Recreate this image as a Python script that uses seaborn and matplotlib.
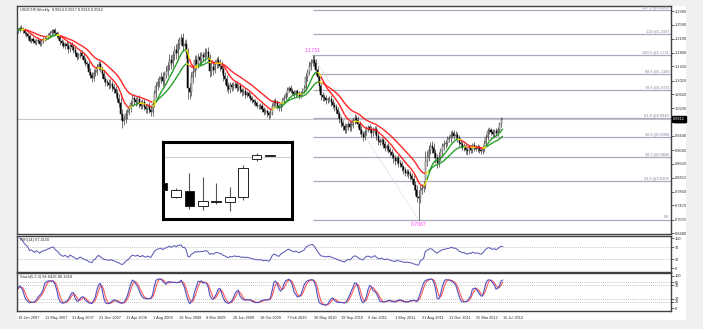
import numpy as np
import pandas as pd
import matplotlib
matplotlib.use("Agg")
import matplotlib.pyplot as plt
from matplotlib.collections import LineCollection
from matplotlib.patches import Rectangle
import matplotlib.transforms as mtransforms
import seaborn as sns

# ---------------- data: USDCHF weekly ----------------
closes = [
    1.245, 1.250, 1.248, 1.243, 1.236, 1.232, 1.226, 1.214, 1.218, 1.212, 1.208, 1.216, 1.212, 1.205, 1.214, 1.218,
    1.220, 1.225, 1.230, 1.235, 1.240, 1.244, 1.236, 1.230, 1.224, 1.212, 1.206, 1.200, 1.205, 1.198, 1.190, 1.202,
    1.195, 1.188, 1.178, 1.168, 1.172, 1.178, 1.170, 1.160, 1.150, 1.148, 1.125, 1.118, 1.108, 1.122, 1.126, 1.140,
    1.148, 1.135, 1.120, 1.104, 1.098, 1.095, 1.088, 1.092, 1.082, 1.076, 1.065, 1.050, 1.038, 1.005, 0.985, 0.992,
    1.005, 1.012, 1.022, 1.038, 1.052, 1.045, 1.040, 1.048, 1.035, 1.030, 1.040, 1.025, 1.020, 1.028, 1.018, 1.012,
    1.035, 1.065, 1.085, 1.098, 1.105, 1.112, 1.100, 1.118, 1.128, 1.142, 1.160, 1.150, 1.172, 1.188, 1.178, 1.205,
    1.215, 1.222, 1.200, 1.205, 1.180, 1.080, 1.068, 1.110, 1.125, 1.160, 1.148, 1.168, 1.158, 1.172, 1.168, 1.180,
    1.182, 1.165, 1.128, 1.140, 1.132, 1.148, 1.158, 1.150, 1.142, 1.135, 1.115, 1.105, 1.085, 1.078, 1.088, 1.082,
    1.088, 1.092, 1.080, 1.085, 1.075, 1.068, 1.072, 1.060, 1.065, 1.058, 1.052, 1.045, 1.040, 1.036, 1.030, 1.028,
    1.030, 1.020, 1.012, 1.015, 1.008, 1.002, 1.010, 1.030, 1.042, 1.038, 1.028, 1.022, 1.035, 1.045, 1.052, 1.062,
    1.075, 1.080, 1.072, 1.068, 1.062, 1.070, 1.064, 1.058, 1.066, 1.072, 1.080, 1.110, 1.125, 1.142, 1.150, 1.160,
    1.150, 1.132, 1.110, 1.085, 1.060, 1.055, 1.052, 1.045, 1.048, 1.050, 1.040, 1.032, 1.025, 1.018, 1.005, 0.992,
    0.982, 0.972, 0.962, 0.970, 0.978, 0.968, 0.975, 0.988, 0.996, 0.990, 0.978, 0.962, 0.950, 0.940, 0.955, 0.965,
    0.968, 0.962, 0.952, 0.958, 0.965, 0.945, 0.930, 0.928, 0.932, 0.920, 0.910, 0.915, 0.905, 0.898, 0.890, 0.880,
    0.872, 0.880, 0.868, 0.865, 0.855, 0.848, 0.840, 0.842, 0.835, 0.830, 0.822, 0.805, 0.792, 0.772, 0.768, 0.790,
    0.795, 0.805, 0.872, 0.885, 0.905, 0.915, 0.910, 0.895, 0.880, 0.868, 0.885, 0.900, 0.915, 0.920, 0.925, 0.935,
    0.938, 0.948, 0.952, 0.945, 0.948, 0.938, 0.925, 0.920, 0.912, 0.915, 0.905, 0.900, 0.910, 0.905, 0.918, 0.910,
    0.908, 0.912, 0.905, 0.902, 0.908, 0.925, 0.942, 0.958, 0.960, 0.955, 0.950, 0.958, 0.952, 0.962, 0.978, 0.9914, 0.9912,
]
first_open = 1.2410

# wick lengths above / below each candle body, in pips
upper_wick = [
    60, 45, 70, 40, 55, 35, 50, 80, 45, 60, 55, 40, 50, 65, 45, 55,
    50, 60, 45, 55, 70, 40, 60, 45, 80, 55, 70, 90, 60, 75, 110, 60,
    70, 60, 85, 50, 75, 60, 90, 70, 80, 65, 90, 110, 80, 120, 75, 90,
    80, 95, 70, 110, 85, 75, 90, 120, 80, 100, 85, 110, 130, 150, 140, 120,
    130, 90, 110, 80, 100, 120, 90, 85, 110, 95, 80, 100, 90, 75, 110, 95,
    100, 90, 120, 110, 85, 140, 120, 100, 130, 110, 150, 120, 140, 110, 160, 130,
    85, 120, 150, 110, 130, 120, 150, 140, 160, 130, 120, 110, 140, 100, 90, 120,
    100, 140, 120, 150, 110, 100, 90, 120, 110, 130, 100, 90, 120, 110, 80, 100,
    80, 70, 90, 75, 85, 60, 70, 80, 55, 65, 70, 60, 50, 75, 60, 55,
    60, 70, 55, 80, 65, 75, 90, 60, 70, 85, 65, 75, 60, 70, 80, 65,
    75, 60, 85, 70, 65, 55, 80, 70, 60, 75, 90, 120, 100, 130, 110, 131,
    140, 120, 110, 130, 100, 90, 80, 85, 70, 75, 90, 80, 70, 85, 80, 95,
    90, 80, 100, 85, 75, 95, 80, 70, 90, 85, 100, 80, 110, 90, 75, 85,
    80, 95, 90, 100, 75, 85, 90, 80, 100, 75, 85, 70, 95, 80, 85, 90,
    95, 80, 110, 85, 90, 75, 80, 95, 85, 100, 90, 110, 120, 130, 180, 150,
    140, 120, 280, 160, 140, 120, 150, 130, 110, 140, 120, 100, 90, 110, 80, 95,
    90, 100, 85, 75, 90, 80, 95, 70, 85, 75, 90, 80, 70, 85, 60, 75,
    70, 80, 65, 75, 90, 70, 85, 80, 95, 70, 85, 60, 75, 80, 65, 70, 3,
]
lower_wick = [
    50, 70, 45, 60, 55, 80, 65, 50, 70, 60, 45, 75, 60, 50, 70, 55,
    60, 45, 55, 50, 60, 70, 55, 80, 60, 90, 70, 65, 100, 80, 120, 70,
    80, 90, 70, 100, 65, 75, 85, 95, 80, 110, 90, 100, 120, 85, 95, 80,
    90, 100, 110, 80, 120, 90, 100, 85, 110, 95, 120, 100, 130, 150, 190, 110,
    100, 120, 95, 110, 85, 130, 100, 90, 120, 95, 110, 85, 100, 120, 95, 110,
    120, 100, 130, 110, 140, 100, 150, 120, 110, 140, 100, 160, 120, 140, 150, 130,
    140, 120, 160, 130, 150, 300, 180, 120, 150, 130, 160, 110, 140, 120, 130, 110,
    120, 150, 180, 130, 140, 110, 120, 130, 140, 120, 150, 130, 140, 110, 120, 100,
    90, 80, 100, 75, 85, 95, 70, 80, 65, 75, 85, 70, 80, 65, 75, 70,
    75, 80, 85, 70, 90, 100, 75, 80, 65, 90, 80, 75, 70, 85, 60, 75,
    80, 70, 75, 85, 90, 70, 80, 95, 75, 70, 65, 80, 90, 75, 100, 85,
    110, 120, 130, 140, 150, 110, 100, 95, 80, 90, 100, 85, 95, 90, 110, 120,
    130, 120, 100, 90, 85, 110, 90, 80, 95, 100, 110, 120, 100, 110, 90, 85,
    90, 100, 110, 85, 95, 120, 110, 90, 100, 110, 95, 100, 90, 110, 100, 120,
    100, 90, 110, 95, 100, 110, 90, 100, 95, 110, 120, 140, 150, 160, 613, 140,
    120, 100, 110, 130, 120, 110, 140, 150, 130, 160, 120, 110, 100, 120, 90, 100,
    95, 110, 100, 90, 105, 100, 110, 95, 90, 100, 110, 100, 85, 95, 90, 100,
    80, 90, 85, 95, 80, 90, 75, 85, 90, 80, 100, 85, 90, 80, 70, 85, 2,
]

date_labels = ["19 Jan 2007", "11 May 2007", "31 Aug 2007", "21 Dec 2007", "11 Apr 2008",
               "1 Aug 2008", "16 Nov 2008", "8 Mar 2009", "28 Jun 2009", "18 Oct 2009",
               "7 Feb 2010", "30 May 2010", "19 Sep 2010", "9 Jan 2011", "1 May 2011",
               "21 Aug 2011", "11 Dec 2011", "25 Mar 2012", "15 Jul 2012"]
bars_per_label = 16

price_ticks = [1.2980, 1.2590, 1.2190, 1.1800, 1.1410, 1.1010, 1.0620, 1.0230, 0.9830,
               0.9440, 0.9040, 0.8650, 0.8250, 0.7860, 0.7470, 0.7070, 0.6680]

fib_low, fib_high = 0.7067, 1.1731
fib_low_bar, fib_high_bar = 238, 175
fib_levels = [0.0, 23.6, 38.2, 50.0, 61.8, 78.6, 88.6, 100.0, 113.0, 127.2]
fib_names = ["0.0", "23.6", "38.2", "50.0", "61.8", "78.6", "88.6", "100.0", "113", "127.2"]

last_price = 0.9912
title_text = "USDCHF,Weekly  0.9914 0.9917 0.9910 0.9912"

# zoomed candle pattern shown in the framed box (open, close, high, low)
inset_open = [36, 22, 28, 13, 18.3, 17, 22, 60, 63.0]
inset_close = [29, 29, 13, 18, 17.0, 22, 51, 64, 63.3]
inset_high = [38, 31, 46, 42, 36, 32, 54, 66, 63.5]
inset_low = [27, 21, 10, 9, 15, 8, 19, 58, 62.8]
inset_ref_level = 62

# ---------------- style ----------------
sns.set_theme(style="white")
plt.rcParams["font.family"] = ["Liberation Sans", "DejaVu Sans"]
FS = 2.8
TXT = "#2a2a2a"
RED, GREEN, YELLOW = "#ff1a1a", "#1f9a1f", "#f0e000"

W, H = 703, 329
fig = plt.figure(figsize=(W / 100, H / 100), dpi=100, facecolor="#f0f0f0")
fig.patches.append(Rectangle((17 / W, 1 - 320 / H), (686 - 17) / W, (320 - 6) / H,
                             transform=fig.transFigure, facecolor="white",
                             edgecolor="none", zorder=-5))


def px_rect(x0, y0, x1, y1):
    return [x0 / W, 1 - y1 / H, (x1 - x0) / W, (y1 - y0) / H]


ax = fig.add_axes(px_rect(17, 6, 671, 234))
ax_rsi = fig.add_axes(px_rect(17, 236, 671, 272))
ax_sto = fig.add_axes(px_rect(17, 273, 671, 311))

c = np.array(closes)
n = len(c)
x = np.arange(n)
o = np.r_[first_open, c[:-1]]
hi = np.maximum(o, c) + np.array(upper_wick) * 1e-4
lo = np.minimum(o, c) - np.array(lower_wick) * 1e-4

xlim = (-0.5, 387.9)
yblend = mtransforms.blended_transform_factory(ax.transAxes, ax.transData)

# ---------------- price panel ----------------
ax.axhline(last_price, color="#c8c8c8", lw=0.8, zorder=1)

# fibonacci retracement
span = fib_high - fib_low
for lvl, name in zip(fib_levels, fib_names):
    p = fib_low + lvl / 100 * span
    ax.hlines(p, fib_high_bar, xlim[1], color="#a9aabb", lw=0.9, zorder=1)
    lab = name if lvl == 0 else f"{name} @{p:.4f}"
    ax.text(0.997, p + 0.0015, lab, transform=yblend, ha="right", va="bottom",
            fontsize=2.8, color="#80809a")
ax.plot([fib_high_bar, fib_low_bar], [fib_high, fib_low], color="#b5b5b5", lw=0.6,
        ls=(0, (1, 2)), zorder=1)

# candles
ax.vlines(x, lo, hi, color="#3c3c3c", lw=0.5, zorder=2)
bull = c >= o
ax.bar(x[bull], (c - o)[bull], bottom=o[bull], width=0.6, color="white",
       edgecolor="#3c3c3c", lw=0.35, zorder=3)
ax.bar(x[~bull], (o - c)[~bull], bottom=c[~bull], width=0.6, color="black",
       edgecolor="black", lw=0.35, zorder=3)


def slope_colored(ax_, xs, v, lw=1.0):
    d = np.diff(v)
    s = np.sign(d)
    cols = []
    for i in range(len(d)):
        turn = (i > 0 and s[i] != s[i - 1]) or (i > 1 and s[i - 1] != s[i - 2])
        cols.append(YELLOW if turn else (GREEN if s[i] > 0 else RED))
    pts = np.column_stack([xs, v]).reshape(-1, 1, 2)
    segs = np.concatenate([pts[:-1], pts[1:]], axis=1)
    ax_.add_collection(LineCollection(segs, colors=cols, linewidths=lw, zorder=4))


cs = pd.Series(c)
ma_fast = cs.ewm(span=8, adjust=False).mean().ewm(span=3, adjust=False).mean().values
ma_slow = cs.ewm(span=21, adjust=False).mean().ewm(span=3, adjust=False).mean().values
slope_colored(ax, x, ma_fast)
slope_colored(ax, x, ma_slow)

# extreme labels
ax.text(fib_high_bar, fib_high + 0.006, f"{fib_high:.4f}", ha="center", va="bottom",
        fontsize=3.7, color="#ff40ff")
ax.text(fib_low_bar, fib_low - 0.006, f"{fib_low:.4f}", ha="center", va="top",
        fontsize=3.7, color="#ff40ff")

ax.text(0.004, 0.993, title_text, transform=ax.transAxes, ha="left", va="top",
        fontsize=2.8, color=TXT)

ax.set_xlim(*xlim)
ax.set_ylim(0.666, 1.3122)
ax.yaxis.tick_right()
ax.set_yticks(price_ticks)
ax.set_yticklabels([f"{t:.4f}" for t in price_ticks])
ax.set_xticks([])

# current price tag on the axis
ax.annotate(f"{last_price:.4f}", xy=(1.0, last_price), xycoords=yblend,
            xytext=(1.2, 0), textcoords="offset points", ha="left", va="center",
            fontsize=FS, color="white",
            bbox=dict(boxstyle="square,pad=0.3", fc="black", ec="black"), zorder=10,
            annotation_clip=False)

# ---------------- framed candle pattern ----------------
axi = fig.add_axes(px_rect(163, 142, 292, 219))
axi.axhline(inset_ref_level, color="#d0d0d0", lw=0.8)
for i, (io, ic, ih, il) in enumerate(zip(inset_open, inset_close, inset_high, inset_low)):
    axi.vlines(i, il, ih, color="#555555", lw=0.8, zorder=2)
    bottom, top = min(io, ic), max(io, ic)
    axi.bar(i, max(top - bottom, 0.6), bottom=bottom, width=0.72,
            color="white" if ic >= io else "black", edgecolor="#222222", lw=0.7, zorder=3)
axi.set_xlim(0.04, 9.63)
axi.set_ylim(0, 77)
axi.set_xticks([])
axi.set_yticks([])
for sp in axi.spines.values():
    sp.set_visible(True)
    sp.set_color("black")
    sp.set_linewidth(2.2)

# ---------------- RSI(14) ----------------
delta = cs.diff()
gain = delta.clip(lower=0)
loss = -delta.clip(upper=0)
avg_g = gain.ewm(alpha=1 / 14, adjust=False).mean()
avg_l = loss.ewm(alpha=1 / 14, adjust=False).mean()
rsi = (100 - 100 / (1 + avg_g / avg_l)).values

for lv in (70, 30):
    ax_rsi.axhline(lv, color="#b0b0b0", lw=0.5, ls=(0, (1.5, 1.5)))
sns.lineplot(x=x[1:], y=rsi[1:], ax=ax_rsi, color="#5d5db8", lw=0.75)
ax_rsi.text(0.004, 0.95, "RSI(14) 67.4150", transform=ax_rsi.transAxes, ha="left",
            va="top", fontsize=2.8, color=TXT)
ax_rsi.set_xlim(*xlim)
ax_rsi.set_ylim(-12, 106.6)
ax_rsi.yaxis.tick_right()
ax_rsi.set_yticks([0, 30, 70, 100])
ax_rsi.set_xticks([])

# ---------------- Stochastic(5,3,3) ----------------
hs, ls_ = pd.Series(hi), pd.Series(lo)
hh = hs.rolling(5, min_periods=1).max()
ll = ls_.rolling(5, min_periods=1).min()
num = (cs - ll).rolling(3, min_periods=1).sum()
den = (hh - ll).rolling(3, min_periods=1).sum()
k = (100 * num / den).values
d = pd.Series(k).rolling(3, min_periods=1).mean().values

for lv in (80, 70, 30, 20):
    ax_sto.axhline(lv, color="#b0b0b0", lw=0.5, ls=(0, (1.5, 1.5)))
sns.lineplot(x=x, y=d, ax=ax_sto, color="#ff5a5a", lw=0.8)
sns.lineplot(x=x, y=k, ax=ax_sto, color="#5050c0", lw=0.8)
ax_sto.text(0.004, 0.96, "Stoch(5,3,3) 94.6426 86.1618", transform=ax_sto.transAxes,
            ha="left", va="top", fontsize=2.8, color=TXT)
ax_sto.set_xlim(*xlim)
ax_sto.set_ylim(-8.3, 108.3)
ax_sto.yaxis.tick_right()
ax_sto.set_yticks([0, 20, 30, 70, 80, 100])
tick_pos = [i * bars_per_label for i in range(len(date_labels))]
ax_sto.set_xticks(tick_pos)
ax_sto.set_xticklabels(date_labels)
for lbl in ax_sto.get_xticklabels():
    lbl.set_horizontalalignment("left")

for a in (ax, ax_rsi, ax_sto):
    a.set_facecolor("white")
    a.set_xlabel("")
    a.set_ylabel("")
    for sp in a.spines.values():
        sp.set_visible(True)
        sp.set_color("#404040")
        sp.set_linewidth(1.0)
    a.tick_params(axis="y", which="both", right=True, left=False, length=2, width=0.5,
                  pad=1, labelsize=FS, colors=TXT)
    a.tick_params(axis="x", length=2, width=0.5, pad=1.5, labelsize=FS, colors=TXT)

fig.savefig("out.png", dpi=100, facecolor=fig.get_facecolor())
